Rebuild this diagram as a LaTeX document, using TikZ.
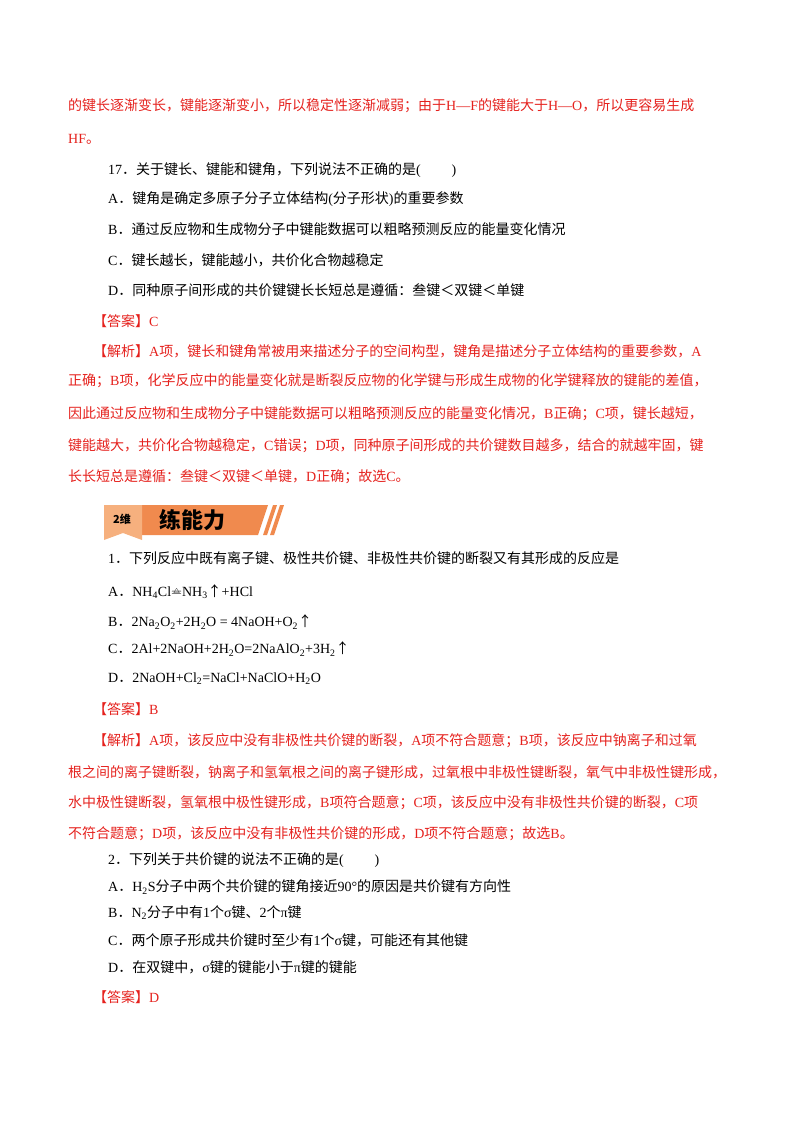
\documentclass[tikz,border=0pt]{standalone}
\usepackage{fontspec}
\setmainfont{Noto Sans CJK SC}
\newfontfamily\lat{Liberation Serif}
\definecolor{myred}{HTML}{E5211D}
\definecolor{bannerO}{HTML}{F08A4E}
\definecolor{bannerL}{HTML}{F6B07E}
\newcommand{\sub}[1]{\textsubscript{#1}}
\newcommand{\heateq}{$\mathrel{\ooalign{$=$\cr\hidewidth\raisebox{0.55ex}{$\scriptscriptstyle\triangle$}\hidewidth\cr}}$}
\begin{document}
\begin{tikzpicture}[x=1pt,y=-1pt,
  txt/.style={anchor=west,inner sep=0pt,font=\fontsize{14}{17}\selectfont},
  red/.style={txt,text=myred}]
\useasboundingbox (0,0) rectangle (800,1132);
\node[red] (l1) at (68,106) {的键长逐渐变长，键能逐渐变小，所以稳定性逐渐减弱；由于{\lat H—F}的键能大于{\lat H—O}，所以更容易生成};
\node[red] (l2) at (68,139) {{\lat HF}。};
\node[txt] (q17) at (108,170) {{\lat 17}．关于键长、键能和键角，下列说法不正确的是{\lat (\hspace{2.2em})}};
\node[txt] (a17) at (108,199) {{\lat A}．键角是确定多原子分子立体结构{\lat (}分子形状{\lat )}的重要参数};
\node[txt] (b17) at (108,229) {{\lat B}．通过反应物和生成物分子中键能数据可以粗略预测反应的能量变化情况};
\node[txt] (c17) at (108,260) {{\lat C}．键长越长，键能越小，共价化合物越稳定};
\node[txt] (d17) at (108,290) {{\lat D}．同种原子间形成的共价键键长长短总是遵循：叁键＜双键＜单键};
\node[red] (ans17) at (93,321) {【答案】{\lat C}};
\node[red] (e1) at (93,351) {【解析】{\lat A}项，键长和键角常被用来描述分子的空间构型，键角是描述分子立体结构的重要参数，{\lat A}};
\node[red] (e2) at (68,381) {正确；{\lat B}项，化学反应中的能量变化就是断裂反应物的化学键与形成生成物的化学键释放的键能的差值，};
\node[red] (e3) at (68,414) {因此通过反应物和生成物分子中键能数据可以粗略预测反应的能量变化情况，{\lat B}正确；{\lat C}项，键长越短，};
\node[red] (e4) at (68,446) {键能越大，共价化合物越稳定，{\lat C}错误；{\lat D}项，同种原子间形成的共价键数目越多，结合的就越牢固，键};
\node[red] (e5) at (68,477) {长长短总是遵循：叁键＜双键＜单键，{\lat D}正确；故选{\lat C}。};
% banner
\fill[bannerO] (140,505) -- (268,505) -- (258,535) -- (140,535) -- cycle;
\fill[bannerO] (263,535) -- (273,505) -- (277,505) -- (267,535) -- cycle;
\fill[bannerO] (270,535) -- (280,505) -- (284,505) -- (274,535) -- cycle;
\fill[bannerL] (104,505) -- (142,505) -- (142,540) -- (123,533) -- (104,540) -- cycle;
\node[inner sep=0pt,font=\fontsize{11}{12}\selectfont\bfseries] (tag) at (122,519) {2维};
\node[inner sep=0pt,font=\fontsize{22}{24}\selectfont\bfseries] (ttl) at (192,520) {练能力};
\node[txt] (q1) at (108,558) {{\lat 1}．下列反应中既有离子键、极性共价键、非极性共价键的断裂又有其形成的反应是};
\node[txt] (a1) at (108,592) {{\lat A}．{\lat NH\sub{4}Cl\heateq NH\sub{3}}↑{\lat +HCl}};
\node[txt] (b1) at (108,622) {{\lat B}．{\lat 2Na\sub{2}O\sub{2}+2H\sub{2}O = 4NaOH+O\sub{2}}↑};
\node[txt] (c1) at (108,649) {{\lat C}．{\lat 2Al+2NaOH+2H\sub{2}O=2NaAlO\sub{2}+3H\sub{2}}↑};
\node[txt] (d1) at (108,679) {{\lat D}．{\lat 2NaOH+Cl\sub{2}=NaCl+NaClO+H\sub{2}O}};
\node[red] (ans1) at (93,709) {【答案】{\lat B}};
\node[red] (f1) at (93,741) {【解析】{\lat A}项，该反应中没有非极性共价键的断裂，{\lat A}项不符合题意；{\lat B}项，该反应中钠离子和过氧};
\node[red] (f2) at (68,772) {根之间的离子键断裂，钠离子和氢氧根之间的离子键形成，过氧根中非极性键断裂，氧气中非极性键形成，};
\node[red] (f3) at (68,803) {水中极性键断裂，氢氧根中极性键形成，{\lat B}项符合题意；{\lat C}项，该反应中没有非极性共价键的断裂，{\lat C}项};
\node[red] (f4) at (68,834) {不符合题意；{\lat D}项，该反应中没有非极性共价键的形成，{\lat D}项不符合题意；故选{\lat B}。};
\node[txt] (q2) at (108,860) {{\lat 2}．下列关于共价键的说法不正确的是{\lat (\hspace{2.2em})}};
\node[txt] (a2) at (108,887) {{\lat A}．{\lat H\sub{2}S}分子中两个共价键的键角接近{\lat 90°}的原因是共价键有方向性};
\node[txt] (b2) at (108,913) {{\lat B}．{\lat N\sub{2}}分子中有{\lat 1}个{\lat σ}键、{\lat 2}个{\lat π}键};
\node[txt] (c2) at (108,940) {{\lat C}．两个原子形成共价键时至少有{\lat 1}个{\lat σ}键，可能还有其他键};
\node[txt] (d2) at (108,967) {{\lat D}．在双键中，{\lat σ}键的键能小于{\lat π}键的键能};
\node[red] (ans2) at (93,997) {【答案】{\lat D}};
\end{tikzpicture}
\end{document}
